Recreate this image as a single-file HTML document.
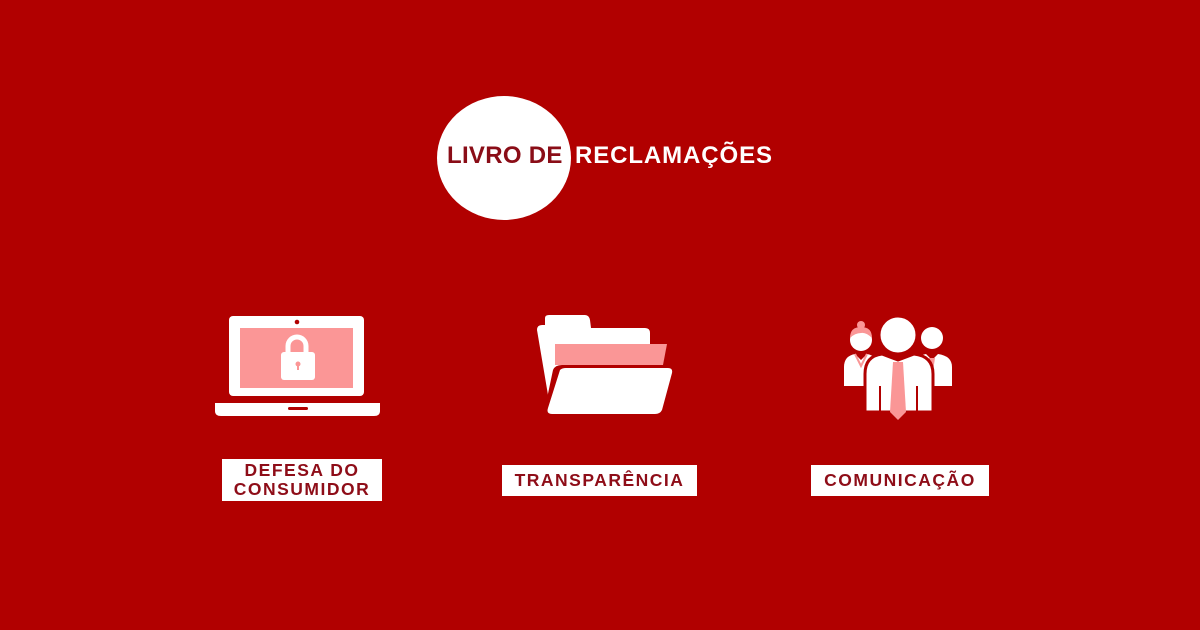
<!DOCTYPE html>
<html><head><meta charset="utf-8"><style>
body{margin:0;width:1200px;height:630px;background:#b10000;overflow:hidden;position:relative;font-family:"Liberation Sans",sans-serif}
.t{position:absolute;font-weight:bold;white-space:nowrap}
.lb{position:absolute;background:#fff;color:#8e0d18;font-weight:bold;font-size:17.5px;letter-spacing:1.5px;text-align:center;line-height:19px;display:flex;align-items:center;justify-content:center}
</style></head><body>
<div style="position:absolute;left:437px;top:96px;width:134px;height:124px;border-radius:50%;background:#fff"></div>
<div class="t" style="left:447px;top:142px;font-size:24px;color:#8a0d17;letter-spacing:0.3px">LIVRO DE</div>
<div class="t" style="left:575px;top:142px;font-size:24px;color:#fff;letter-spacing:0.9px">RECLAMAÇÕES</div>
<svg width="1200" height="630" style="position:absolute;left:0;top:0">
<!-- laptop -->
<rect x="229" y="316" width="135" height="80" rx="4" fill="#fff"/>
<rect x="240" y="328" width="113" height="60" fill="#fb9696"/>
<circle cx="297" cy="322" r="2.3" fill="#b10000"/>
<path d="M215 403 H380 V411 Q380 416 374 416 H221 Q215 416 215 411Z" fill="#fff"/>
<rect x="288" y="407" width="20" height="3" rx="1.5" fill="#b10000"/>
<path d="M288 352 V346 a9 9 0 0 1 18 0 V352" fill="none" stroke="#fff" stroke-width="5"/>
<rect x="281" y="352" width="34" height="28" rx="3" fill="#fff"/>
<circle cx="298" cy="364" r="2.5" fill="#fb9696"/><rect x="297" y="364" width="2" height="6" fill="#fb9696"/>
<!-- folder -->
<path d="M537 330 Q537 325 542 325 H545 V318 Q545 315 549 315 H585 Q589 315 590 320 L591 328 H645 Q650 328 650 333 V395 H548Z" fill="#fff"/>
<path d="M555 344 H667 L663 365 H555Z" fill="#fa9696"/>
<path d="M553 370 Q555 365 562 365 H668 Q676 365 674 373 L663 411 Q661 416 655 416 H551 Q542 416 545 408Z" fill="#b10000"/>
<path d="M560 370 Q562 368 566 368 H668 Q673 368 672 373 L662 410 Q660 414 655 414 H552 Q546 414 548 408Z" fill="#fff"/>
<!-- people -->
<circle cx="861" cy="340" r="11" fill="#fff"/>
<path d="M850 338 Q850 327 861 327 Q872 327 872 338 Q866 332 861 333 Q855 333 850 338Z" fill="#fa9696"/>
<circle cx="861" cy="325" r="4" fill="#fa9696"/>
<path d="M844 386 V367 Q844 356 855 354 L861 360 L867 354 Q878 356 878 367 V386Z" fill="#fff"/>
<path d="M855 354 L861 366 L867 354" fill="none" stroke="#fa9696" stroke-width="2"/>
<circle cx="932" cy="338" r="11" fill="#fff"/>
<path d="M915 386 V367 Q915 356 926 354 L932 360 L938 354 Q952 356 952 367 V386Z" fill="#fff"/>
<path d="M929 358 L932 378 L935 358" fill="#fa9696"/>
<circle cx="898" cy="335" r="19" fill="#fff" stroke="#b10000" stroke-width="3"/>
<path d="M865 412 V374 Q865 356 882 354 L898 360 L914 354 Q933 356 933 374 V412Z" fill="#fff" stroke="#b10000" stroke-width="3"/>
<path d="M893 362 H903 L906 412 L898 420 L890 412Z" fill="#fa9696"/>
<line x1="880" y1="386" x2="880" y2="412" stroke="#b10000" stroke-width="2"/>
<line x1="917" y1="386" x2="917" y2="412" stroke="#b10000" stroke-width="2"/>
</svg>
<div class="lb" style="left:222px;top:459px;width:160px;height:42px">DEFESA DO<br>CONSUMIDOR</div>
<div class="lb" style="left:502px;top:465px;width:195px;height:31px">TRANSPARÊNCIA</div>
<div class="lb" style="left:811px;top:465px;width:178px;height:31px">COMUNICAÇÃO</div>
</body></html>
